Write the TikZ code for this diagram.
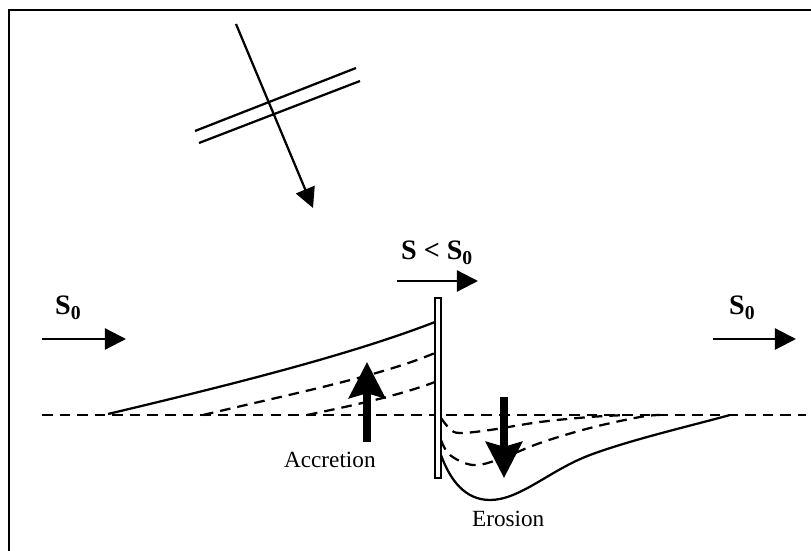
\documentclass[tikz,border=0pt]{standalone}
\usepackage{fontspec}
\setmainfont{Liberation Serif}
\usetikzlibrary{arrows.meta}

\begin{document}
\begin{tikzpicture}[x=0.025cm, y=-0.025cm, line width=1.6pt,
  flow/.style={-{Triangle[length=0.53cm, width=0.53cm]}},
  bigarrow/.style={line width=0.19cm, -{Stealth[length=0.9cm, width=0.9cm, inset=0.12cm]}},
  dash line/.style={dash pattern=on 7.5pt off 5pt},
  slabel/.style={anchor=base west, inner sep=0pt, font=\fontsize{20}{24}\selectfont\bfseries},
  tlabel/.style={anchor=base west, inner sep=0pt, font=\fontsize{16.5}{20}\selectfont}]
\useasboundingbox (0,0) rectangle (811,551);
% frame
\draw[line width=1.2pt] (9,551) -- (9,10) -- (811,10);

% incoming wave and crests
\coordinate (D1) at (236,24);
\coordinate (D2) at (313,208);
\draw[-{Triangle[length=0.5cm, width=0.5cm]}] (D1) -- (D2);
\draw (195,131) -- (356,68);
\draw (199,143) -- (360,81);

% transport labels
\node[slabel] (S0L) at (54,315) {S\textsubscript{0}};
\node[slabel] (S0R) at (728,315) {S\textsubscript{0}};
\node[slabel] (SM) at (400,260) {S < S\textsubscript{0}};
\coordinate (L1) at (42,339);
\coordinate (L2) at (126,339);
\coordinate (R1) at (713,339);
\coordinate (R2) at (796,339);
\coordinate (M1) at (397,281);
\coordinate (M2) at (478,281);
\draw[flow] (L1) -- (L2);
\draw[flow] (R1) -- (R2);
\draw[flow] (M1) -- (M2);

% initial shoreline
\draw[dash line] (42,415) -- (806,415);

% accretion side
\draw (108,414) .. controls (230,385) and (350,355) .. (435,322);
\draw[dash line] (203,415) .. controls (300,392) and (380,376) .. (435,353);
\draw[dash line] (307,415) .. controls (360,404) and (400,395) .. (435,382);

% erosion side
\draw (441,455) .. controls (450,480) and (465,500) .. (490,500)
  .. controls (520,500) and (550,470) .. (590,455)
  .. controls (630,440) and (690,426) .. (730,415);
\draw[dash line] plot[smooth, tension=0.6] coordinates {(441,418) (450,429) (460,433) (490,430) (540,422) (590,417) (627,415)};
\draw[dash line] plot[smooth, tension=0.6] coordinates {(441,440) (450,455) (473,465) (500,459) (540,443) (590,428) (640,417) (660,415)};

% groyne
\draw[fill=white, line width=1.2pt] (435,298) rectangle (441,478);

% accretion / erosion arrows
\coordinate (A1) at (367,442);
\coordinate (A2) at (367,362);
\coordinate (E1) at (504,397);
\coordinate (E2) at (504,478);
\draw[bigarrow] (A1) -- (A2);
\draw[bigarrow] (E1) -- (E2);
\node[tlabel] (AC) at (283,468) {Accretion};
\node[tlabel] (ER) at (471,526) {Erosion};
\end{tikzpicture}
\end{document}
